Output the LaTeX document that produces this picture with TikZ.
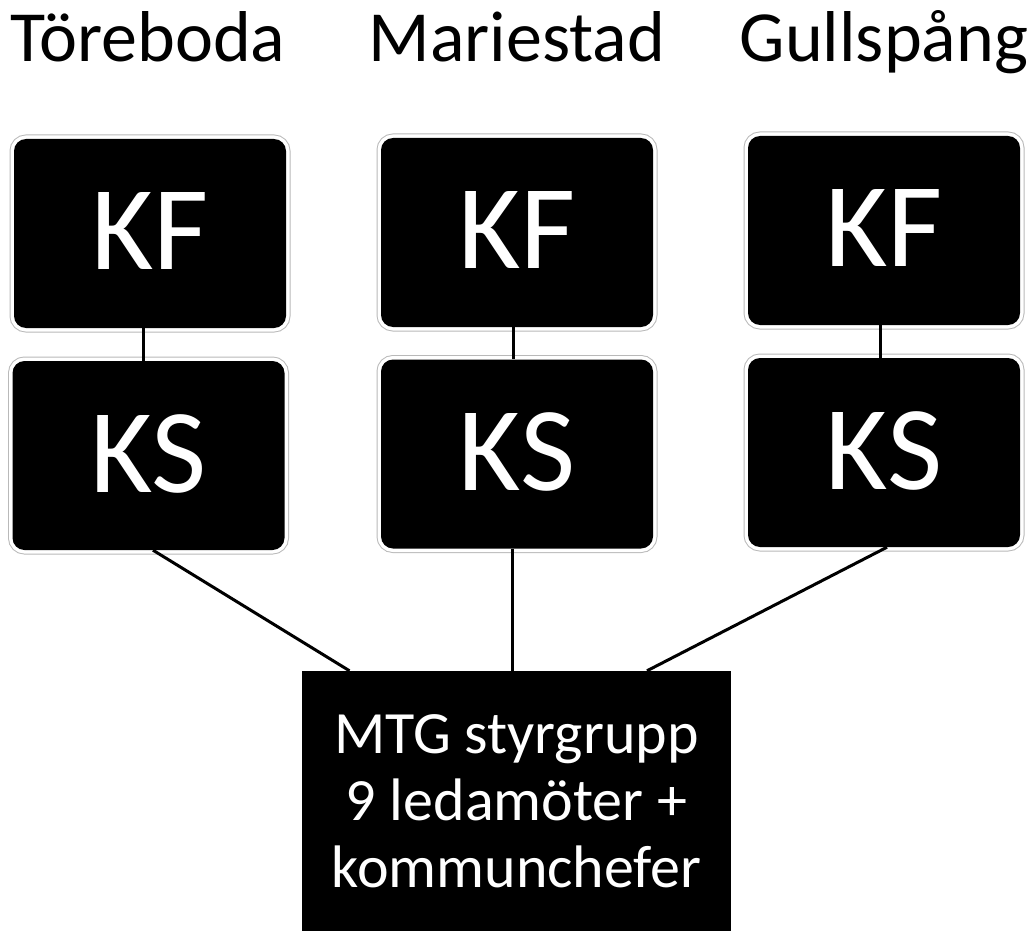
\documentclass[tikz,border=0pt]{standalone}
\usepackage{fontspec}
\setmainfont{Carlito}
\begin{document}
\begin{tikzpicture}[x=1pt,y=-1pt,
  title/.style={anchor=base, inner sep=0pt, font=\fontsize{72}{86}\selectfont},
  orgbox/.style={fill=black, text=white, rounded corners=12pt, inner sep=0pt,
    minimum width=272pt, minimum height=189pt,
    font=\fontsize{120}{140}\selectfont,
    preaction={draw=gray!55, line width=9pt},
    preaction={draw=white, line width=7pt}},
  mtgbox/.style={fill=black, text=white, inner sep=0pt, align=center,
    minimum width=429pt, minimum height=260pt,
    font=\fontsize{60}{67}\selectfont},
  link/.style={draw=black, line width=3pt}]
\useasboundingbox (0,0) rectangle (1036,931);
\fill[white] (0,0) rectangle (1036,931);
% titles
\node[title] (t1) at (148,62) {Töreboda};
\node[title] (t2) at (517,62) {Mariestad};
\node[title] (t3) at (884,62) {Gullspång};
% boxes
\node[orgbox] (kf1) at (150,233.5) {\raisebox{4pt}{KF}};
\node[orgbox] (ks1) at (148.5,455.5) {\raisebox{4pt}{KS}};
\node[orgbox] (kf2) at (517,232.5) {\raisebox{4pt}{KF}};
\node[orgbox] (ks2) at (517,454) {\raisebox{4pt}{KS}};
\node[orgbox] (kf3) at (884,230.5) {\raisebox{4pt}{KF}};
\node[orgbox] (ks3) at (884,452.5) {\raisebox{4pt}{KS}};
\node[mtgbox] (mtg) at (516.5,801) {\raisebox{0pt}{MTG styrgrupp}\\9 ledamöter +\\kommunchefer};
% connectors
\draw[link] ([xshift=-7pt]kf1.south) -- ([xshift=-5.5pt]ks1.north);
\draw[link] ([xshift=-4pt]kf2.south) -- ([xshift=-4pt]ks2.north);
\draw[link] ([xshift=-4pt]kf3.south) -- ([xshift=-4pt]ks3.north);
\draw[link] ([xshift=4.5pt]ks1.south) -- ([xshift=-167pt]mtg.north);
\draw[link] ([xshift=-5pt]ks2.south) -- ([xshift=-4.5pt]mtg.north);
\draw[link] ([xshift=3pt]ks3.south) -- ([xshift=130.5pt]mtg.north);
\end{tikzpicture}
\end{document}
